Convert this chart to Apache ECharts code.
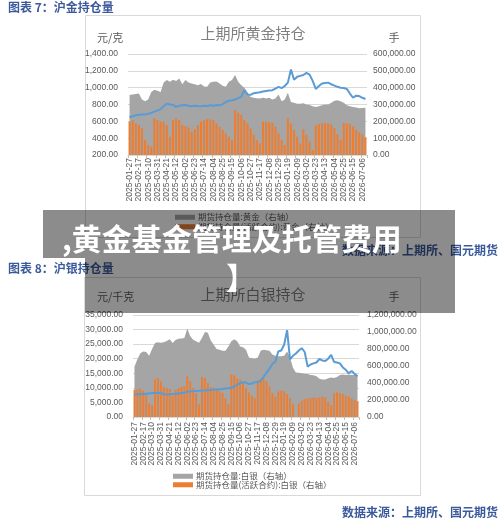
<!DOCTYPE html>
<html>
<head>
<meta charset="utf-8">
<script src="https://cdn.jsdelivr.net/npm/echarts@6/dist/echarts.min.js"></script>
<style>
html,body{margin:0;padding:0;background:#fff;}
#c{width:500px;height:525px;}
</style>
</head>
<body>
<div id="c"></div>
<script>
// Weekly dates (category axis)
const dates = [
'2025-01-27','2025-02-03','2025-02-10','2025-02-17','2025-02-24','2025-03-03','2025-03-10','2025-03-17','2025-03-24','2025-03-31',
'2025-04-07','2025-04-14','2025-04-21','2025-04-28','2025-05-05','2025-05-12','2025-05-19','2025-05-26','2025-06-02','2025-06-09',
'2025-06-16','2025-06-23','2025-06-30','2025-07-07','2025-07-14','2025-07-21','2025-07-28','2025-08-04','2025-08-11','2025-08-18',
'2025-08-25','2025-09-01','2025-09-08','2025-09-15','2025-09-22','2025-09-29','2025-10-06','2025-10-13','2025-10-20','2025-10-27',
'2025-11-03','2025-11-10','2025-11-17','2025-11-24','2025-12-01','2025-12-08','2025-12-15','2025-12-22','2025-12-29','2026-01-05',
'2026-01-12','2026-01-19','2026-01-26','2026-02-02','2026-02-09','2026-02-16','2026-02-23','2026-03-02','2026-03-09','2026-03-16',
'2026-03-23','2026-03-30','2026-04-06','2026-04-13','2026-04-20','2026-04-27','2026-05-04','2026-05-11','2026-05-18','2026-05-25',
'2026-06-01','2026-06-08','2026-06-15','2026-06-22','2026-06-29','2026-07-06','2026-07-13'
];

// Gold: total open interest (手, right axis)
const goldOI = [
357000,360000,362000,365000,330000,320000,330000,375000,387000,382000,
375000,430000,445000,435000,447000,440000,455000,420000,445000,430000,
425000,420000,415000,422000,407000,405000,430000,435000,437000,425000,
412000,405000,435000,445000,475000,435000,415000,400000,370000,345000,
340000,337000,335000,340000,335000,340000,330000,335000,360000,320000,
330000,370000,315000,310000,305000,305000,307000,300000,297000,290000,
285000,290000,295000,300000,300000,310000,322000,325000,320000,310000,
295000,290000,285000,282000,277000,279000,280000
];
// Gold: active contract open interest (手, right axis)
const goldActive = [
198000,208000,188000,178000,158000,89000,59000,50000,218000,208000,
198000,198000,178000,109000,208000,218000,208000,178000,172000,164000,
139000,152000,178000,198000,208000,212000,212000,208000,188000,168000,
149000,129000,109000,89000,267000,251000,238000,208000,188000,158000,
119000,89000,69000,198000,198000,194000,192000,168000,129000,89000,
59000,218000,188000,149000,109000,69000,152000,119000,79000,30000,
175000,185000,188000,190000,188000,182000,160000,125000,90000,190000,
188000,185000,170000,150000,135000,120000,105000
];
// Gold price (元/克, left axis)
const goldPrice = [
648,660,672,678,680,680,690,700,715,728,
745,780,810,800,795,772,785,790,795,785,
780,785,782,780,785,782,790,785,795,790,
805,830,845,850,860,875,895,970,920,915,
935,940,945,955,960,965,970,990,1010,995,
1020,1060,1215,1095,1130,1140,1150,1175,1155,1080,
985,1020,1050,1055,1060,1040,1025,1010,1000,995,
985,930,880,905,900,880,865
];

// Silver: total open interest (手, right axis)
const silverOI = [
590000,680000,750000,770000,765000,720000,800000,870000,880000,875000,
880000,895000,915000,870000,905000,920000,925000,930000,1040000,950000,
910000,890000,875000,930000,1000000,990000,900000,850000,800000,790000,
780000,780000,830000,890000,915000,890000,830000,820000,790000,700000,
690000,685000,700000,780000,790000,785000,780000,735000,720000,715000,
715000,720000,770000,700000,580000,525000,520000,515000,510000,505000,
495000,490000,480000,450000,440000,440000,455000,465000,460000,470000,
495000,500000,495000,500000,495000,495000,495000
];
// Silver: active contract open interest (手, right axis)
const silverActive = [
320000,325000,335000,310000,260000,160000,140000,440000,460000,420000,
350000,340000,330000,250000,320000,340000,355000,360000,480000,420000,
340000,280000,150000,470000,460000,400000,350000,345000,335000,305000,
285000,220000,150000,500000,490000,450000,440000,400000,340000,290000,
250000,220000,400000,430000,450000,420000,360000,280000,240000,300000,
310000,305000,270000,220000,150000,0,160000,190000,210000,220000,
225000,230000,225000,230000,240000,230000,180000,140000,280000,290000,
280000,270000,250000,240000,220000,200000,185000
];
// Silver price (元/千克, left axis)
const silverPrice = [
7700,7800,7850,7900,8000,8100,8200,8200,8250,8300,
7800,7750,7800,7900,8000,8100,8200,8300,8700,8800,
8800,8900,9000,9100,9100,9200,9300,9400,9400,9500,
9600,9800,9900,10000,10500,11000,11700,11900,11800,11300,
11500,11900,12000,12600,13800,15200,16600,18200,19000,22500,
22800,24800,29800,19800,21000,21800,22800,23600,22300,17300,
18000,18400,18700,19900,19400,19200,20000,21300,18900,18700,
18400,17000,16200,15000,15800,14800,14000
];

const seriesNames = {
  goldOI: '期货持仓量:黄金（右轴）',
  goldActive: '期货持仓量(活跃合约):黄金（右轴）',
  goldPrice: '黄金价格',
  silverOI: '期货持仓量:白银（右轴）',
  silverActive: '期货持仓量(活跃合约):白银（右轴）',
  silverPrice: '白银价格'
};

function fmt(v){
  const s = Math.round(v).toString().replace(/\B(?=(\d{3})+(?!\d))/g, ',');
  return s + '.00';
}

const LAT = 'Liberation Sans, Arial, sans-serif';
const CJK = 'Noto Sans CJK SC, sans-serif';
const AX = '#595959';
const GRIDC = '#d9d9d9';
const GREY = '#A5A5A5', ORANGE = '#ED7D31', BLUE = '#5B9BD5';
const TBLUE = '#3A5A9B';

function xAxisFor(gi, margin){
  return {
    type:'category', gridIndex:gi, data:dates, boundaryGap:true,
    axisLine:{show:true, lineStyle:{color:GRIDC, width:1}},
    axisTick:{show:true, interval:2, length:3, lineStyle:{color:'#bfbfbf'}},
    axisLabel:{interval:2, rotate:90, fontSize:8.5, fontFamily:LAT, color:AX, margin:margin},
    splitLine:{show:false}
  };
}
function yAxisFor(gi, pos, min, max, interval, split, margin){
  return {
    type:'value', gridIndex:gi, position:pos, min:min, max:max, interval:interval,
    axisLine:{show:false}, axisTick:{show:false},
    axisLabel:{fontSize:8.5, fontFamily:LAT, color:AX, formatter:fmt, margin:margin},
    splitLine:{show:split, lineStyle:{color:GRIDC, width:1}}
  };
}

function txt(text, x, y, size, color, weight, align, z){
  return {
    type:'text', z: z||10,
    style:{text:text, x:x, y:y, font:(weight||'normal')+' '+size+'px '+CJK, fill:color,
      align:align||'left', textAlign:align||'left', verticalAlign:'middle', textVerticalAlign:'middle'}
  };
}

const chart = echarts.init(document.getElementById('c'), null, {renderer:'canvas'});
chart.setOption({
  animation:false,
  backgroundColor:'#ffffff',
  grid:[
    {left:128, top:54, width:239, height:101},
    {left:133, top:315, width:226, height:102}
  ],
  xAxis:[ xAxisFor(0, 3), xAxisFor(1, 5) ],
  yAxis:[
    yAxisFor(0,'left',200,1400,200,true,10),
    yAxisFor(0,'right',0,600000,100000,false,6),
    yAxisFor(1,'left',0,35000,5000,true,10),
    yAxisFor(1,'right',0,1200000,200000,false,8)
  ],
  legend:[
    {orient:'vertical', left:170, top:208, itemWidth:20, itemHeight:5, itemGap:1, icon:'rect',
     selectedMode:false, textStyle:{fontSize:8.5, fontFamily:CJK, color:AX, padding:[0,0,0,-2]},
     data:[seriesNames.goldOI, seriesNames.goldActive]},
    {orient:'vertical', left:168, top:467, itemWidth:20, itemHeight:5, itemGap:0, icon:'rect',
     selectedMode:false, textStyle:{fontSize:8.5, fontFamily:CJK, color:AX, padding:[0,0,0,-2]},
     data:[seriesNames.silverOI, seriesNames.silverActive]}
  ],
  series:[
    {name:seriesNames.goldOI, type:'line', xAxisIndex:0, yAxisIndex:1, data:goldOI,
     symbol:'none', lineStyle:{width:0}, color:GREY, areaStyle:{color:GREY, opacity:1}, z:1},
    {name:seriesNames.goldActive, type:'bar', xAxisIndex:0, yAxisIndex:1, data:goldActive,
     color:ORANGE, barCategoryGap:'35%', z:2},
    {name:seriesNames.goldPrice, type:'line', xAxisIndex:0, yAxisIndex:0, data:goldPrice,
     symbol:'none', color:BLUE, lineStyle:{width:2, color:BLUE}, z:3},
    {name:seriesNames.silverOI, type:'line', xAxisIndex:1, yAxisIndex:3, data:silverOI,
     symbol:'none', lineStyle:{width:0}, color:GREY, areaStyle:{color:GREY, opacity:1}, z:1},
    {name:seriesNames.silverActive, type:'bar', xAxisIndex:1, yAxisIndex:3, data:silverActive,
     color:ORANGE, barCategoryGap:'35%', z:2},
    {name:seriesNames.silverPrice, type:'line', xAxisIndex:1, yAxisIndex:2, data:silverPrice,
     symbol:'none', color:BLUE, lineStyle:{width:2, color:BLUE}, z:3}
  ],
  graphic:{elements:[
    // chart frames
    {type:'rect', z:0, shape:{x:85.5, y:15.5, width:335, height:222}, style:{fill:'none', stroke:GRIDC, lineWidth:1}},
    {type:'rect', z:0, shape:{x:84.5, y:277.5, width:336, height:218}, style:{fill:'none', stroke:GRIDC, lineWidth:1}},
    // page headings
    txt('图表 7：沪金持仓量', 8, 7, 12, TBLUE, 'bold'),
    txt('图表 8：沪银持仓量', 8, 268, 12, TBLUE, 'bold'),
    txt('数据来源：上期所、国元期货', 498, 250, 12, TBLUE, 'bold', 'right'),
    txt('数据来源：上期所、国元期货', 498, 512, 12, TBLUE, 'bold', 'right'),
    // chart titles and units
    txt('上期所黄金持仓', 253, 33, 15, '#7f7f7f', 'normal', 'center'),
    txt('元/克', 97, 38, 11, AX, 'normal'),
    txt('手', 394, 38, 11, AX, 'normal', 'center'),
    txt('上期所白银持仓', 253, 294, 15, '#7f7f7f', 'normal', 'center'),
    txt('元/千克', 97, 297, 11, AX, 'normal'),
    txt('手', 394, 297, 11, AX, 'normal', 'center'),
    // overlay banner
    {type:'rect', z:100, shape:{x:43, y:210, width:412, height:48}, style:{fill:'rgba(0,0,0,0.45)'}},
    {type:'rect', z:100, shape:{x:85, y:258, width:370, height:55}, style:{fill:'rgba(0,0,0,0.45)'}},
    txt(',黄金基金管理及托管费用', 62, 239, 30, '#ffffff', 'bold', 'left', 101),
    txt('】', 226, 278, 30, '#ffffff', 'bold', 'left', 101)
  ]}
});
</script>
</body>
</html>
